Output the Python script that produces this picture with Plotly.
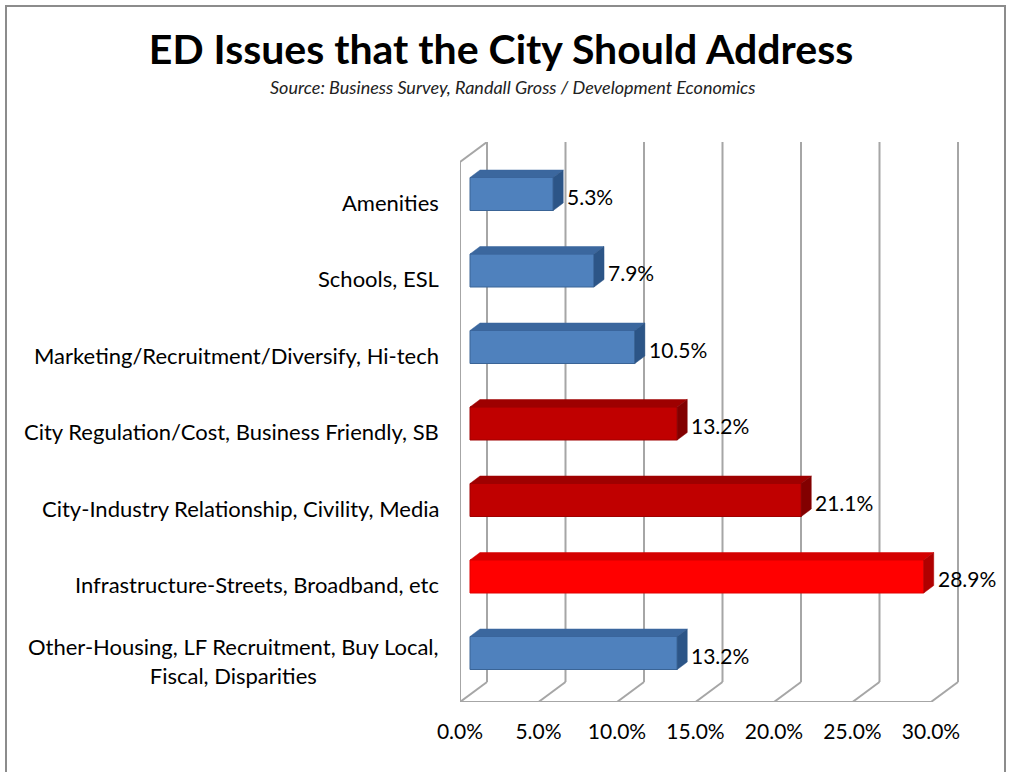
import plotly.graph_objects as go

# ---------------- data ----------------
categories = [
    "Amenities",
    "Schools, ESL",
    "Marketing/Recruitment/Diversify, Hi-tech",
    "City Regulation/Cost, Business Friendly, SB",
    "City-Industry Relationship, Civility, Media",
    "Infrastructure-Streets, Broadband, etc",
    "Other-Housing, LF Recruitment, Buy Local,<br>Fiscal, Disparities",
]
values = [5.3, 7.9, 10.5, 13.2, 21.1, 28.9, 13.2]
groups = ["blue", "blue", "blue", "darkred", "darkred", "red", "blue"]
tick_values = [0, 5, 10, 15, 20, 25, 30]
tick_labels = ["0.0%", "5.0%", "10.0%", "15.0%", "20.0%", "25.0%", "30.0%"]

title = "ED Issues that the City Should Address"
subtitle = "Source: Business Survey, Randall Gross / Development Economics"

# ---------------- styles ----------------
FONT = "Lato"
face_colors = {
    "blue": {"front": "#4F81BD", "top": "#3B679E", "side": "#2C5587", "edge": "#3A6496"},
    "darkred": {"front": "#C00000", "top": "#9E0000", "side": "#820000", "edge": "#A00000"},
    "red": {"front": "#FF0000", "top": "#D40000", "side": "#B00000", "edge": "#E00000"},
}
GRID = "#A6A6A6"

W, H = 1011, 772
# pixel geometry of the plotting box
L_PX, R_PX = 460, 959        # x-domain in pixels
T_PX, B_PX = 142, 702        # y-domain in pixels
X0_PX, X_SCALE = 470, 15.7   # bar-axis origin and px per unit
Y0_PX, Y_STEP = 194, 76.5    # first category centre and spacing

x_range = [(L_PX - X0_PX) / X_SCALE, (R_PX - X0_PX) / X_SCALE]
y_range = [(B_PX - Y0_PX) / Y_STEP, (T_PX - Y0_PX) / Y_STEP]

# depth of the walls / bars expressed in data units
WALL_DX = 27 / X_SCALE
WALL_DY = 20 / Y_STEP
FRONT_SHIFT = (L_PX - X0_PX) / X_SCALE
BACK_SHIFT = FRONT_SHIFT + WALL_DX
BAR_DX = 10 / X_SCALE
BAR_DY = 7.5 / Y_STEP
BAR_W = 33 / Y_STEP

idx = list(range(len(categories)))

fig = go.Figure()
fig.add_trace(go.Bar(
    x=values, y=idx, orientation="h", width=BAR_W,
    marker=dict(color=[face_colors[g]["front"] for g in groups],
                line=dict(color=[face_colors[g]["edge"] for g in groups], width=1)),
    hoverinfo="x+y", showlegend=False,
))

shapes = []
# ---- 3D frame (walls / floor) ----
y_floor_front = y_range[0]
y_floor_back = y_range[0] - WALL_DY
y_top_back = y_range[1]
y_top_front = y_range[1] + WALL_DY
line_style = dict(color=GRID, width=2)
for t in tick_values:
    shapes.append(dict(type="line", xref="x", yref="y", layer="below",
                       x0=t + BACK_SHIFT, x1=t + BACK_SHIFT, y0=y_top_back, y1=y_floor_back,
                       line=line_style))
    shapes.append(dict(type="line", xref="x", yref="y", layer="below",
                       x0=t + FRONT_SHIFT, x1=t + BACK_SHIFT, y0=y_floor_front, y1=y_floor_back,
                       line=line_style))
shapes.append(dict(type="line", xref="x", yref="y", layer="below",
                   x0=tick_values[0] + FRONT_SHIFT, x1=tick_values[-1] + FRONT_SHIFT,
                   y0=y_floor_front, y1=y_floor_front, line=line_style))
shapes.append(dict(type="line", xref="x", yref="y", layer="below",
                   x0=FRONT_SHIFT, x1=FRONT_SHIFT, y0=y_top_front, y1=y_floor_front,
                   line=line_style))
shapes.append(dict(type="line", xref="x", yref="y", layer="below",
                   x0=FRONT_SHIFT, x1=BACK_SHIFT, y0=y_top_front, y1=y_top_back,
                   line=line_style))

# ---- 3D bar faces (top + right side) ----
for i, v, g in zip(idx, values, groups):
    c = face_colors[g]
    yt = i - BAR_W / 2
    yb = i + BAR_W / 2
    top = f"M 0,{yt} L {BAR_DX},{yt - BAR_DY} L {v + BAR_DX},{yt - BAR_DY} L {v},{yt} Z"
    side = f"M {v},{yt} L {v + BAR_DX},{yt - BAR_DY} L {v + BAR_DX},{yb - BAR_DY} L {v},{yb} Z"
    shapes.append(dict(type="path", xref="x", yref="y", layer="above", path=top,
                       fillcolor=c["top"], line=dict(color=c["top"], width=0.5)))
    shapes.append(dict(type="path", xref="x", yref="y", layer="above", path=side,
                       fillcolor=c["side"], line=dict(color=c["side"], width=0.5)))

# ---- outer chart border ----
shapes.append(dict(type="rect", xref="paper", yref="paper",
                   x0=6 / W, x1=1005 / W, y0=-0.02, y1=1 - 6 / H,
                   line=dict(color="#8C8C8C", width=2), fillcolor="rgba(0,0,0,0)"))

annotations = []
# value labels
for i, v in zip(idx, values):
    annotations.append(dict(x=v, y=i, xref="x", yref="y", text=f"{v:.1f}%",
                            xanchor="left", yanchor="middle", xshift=12, yshift=-2,
                            showarrow=False, font=dict(family=FONT, size=21, color="#000")))
# category labels
for i, c in zip(idx, categories):
    annotations.append(dict(x=441 / W, y=i, xref="paper", yref="y", text=c,
                            xanchor="right", yanchor="middle", align="center", yshift=-8,
                            showarrow=False, font=dict(family=FONT, size=22, color="#000")))
# subtitle
annotations.append(dict(x=513 / W, y=1 - 87 / H, xref="paper", yref="paper",
                        text=f"<i>{subtitle}</i>", showarrow=False,
                        xanchor="center", yanchor="middle",
                        font=dict(family=FONT, size=18, color="#222")))

fig.update_layout(
    width=W, height=H, autosize=False,
    margin=dict(l=0, r=0, t=0, b=0, pad=0, autoexpand=False),
    paper_bgcolor="white", plot_bgcolor="rgba(0,0,0,0)",
    title=dict(text=f"<b>{title}</b>", x=501 / W, y=1 - 50 / H,
               xanchor="center", yanchor="middle",
               font=dict(family=FONT, size=41, color="#000")),
    xaxis=dict(domain=[L_PX / W, R_PX / W], range=x_range, showgrid=False, zeroline=False,
               showline=False, tickvals=tick_values, ticktext=tick_labels, ticks="",
               ticklabelshift=-10, ticklabelstandoff=15, automargin=False,
               tickfont=dict(family=FONT, size=21, color="#000")),
    yaxis=dict(domain=[1 - B_PX / H, 1 - T_PX / H], range=y_range, showgrid=False,
               zeroline=False, showline=False, showticklabels=False, ticks="",
               automargin=False),
    shapes=shapes, annotations=annotations,
    showlegend=False,
)

fig.write_html("out.html")
